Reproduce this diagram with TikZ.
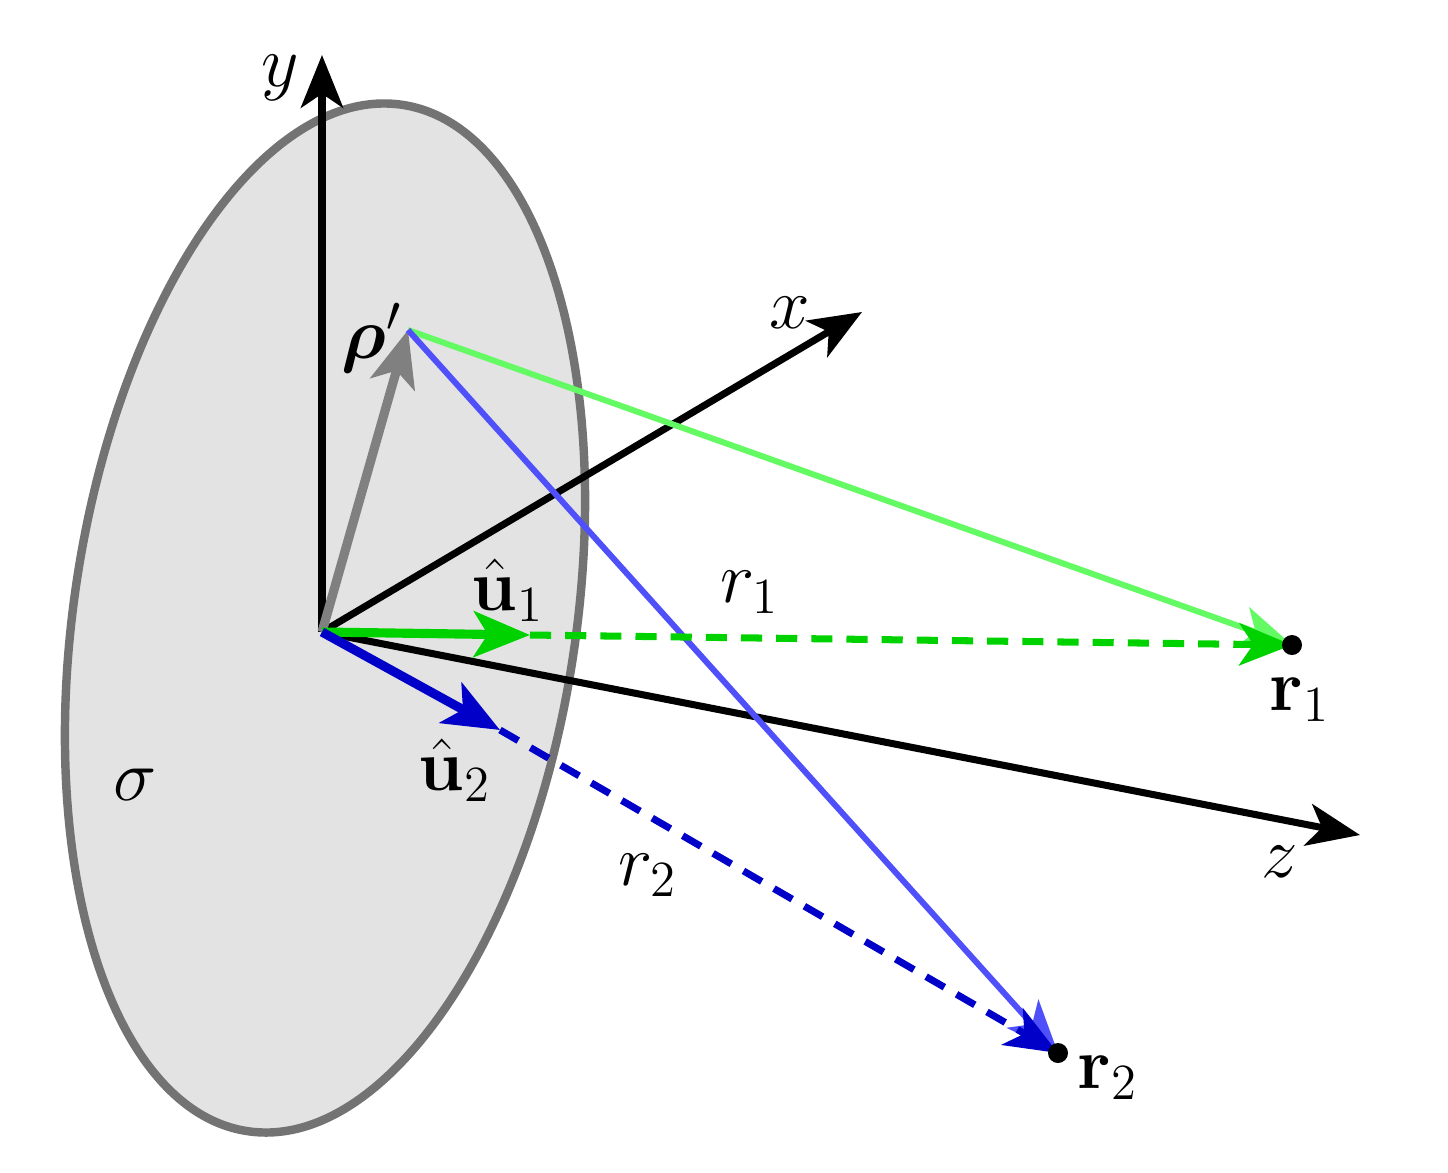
\documentclass[tikz,border=0pt]{standalone}
\usepackage{amsmath,bm}
\usetikzlibrary{arrows.meta}
\begin{document}
\begin{tikzpicture}[x=0.01cm,y=-0.01cm,
  axis/.style={line width=2pt,-{Stealth[length=15pt,width=12pt,inset=4pt]}},
  lab/.style={font=\fontsize{22}{26}\selectfont},
  vec/.style={line width=2.6pt,-{Stealth[length=16pt,width=13pt,inset=4pt]}},
  dsh/.style={line width=2pt,dash pattern=on 6pt off 4pt}]
\useasboundingbox (0,0) rectangle (1448,1172);
\definecolor{gr}{RGB}{0,210,0}
\definecolor{lg}{RGB}{100,250,100}
\definecolor{bl}{RGB}{0,0,200}
\definecolor{lb}{RGB}{80,80,250}
\coordinate (O) at (322,632);
\coordinate (rho) at (408,330);
\coordinate (r1) at (1292,645);
\coordinate (r2) at (1058,1053);
\coordinate (u1) at (530,635);
\coordinate (u2) at (500,730);
\draw[line width=2.4pt,draw=black!55,fill=black!11,rotate around={81.4:(325,618)}] (325,618) ellipse [x radius=519,y radius=251];
\draw[axis] (O) -- (322,55);
\draw[axis] (O) -- (862,312);
\draw[axis] (O) -- (1360,835);
\draw[vec,black!50] (O) -- (rho);
\draw[line width=1.7pt,lg,-{Stealth[length=15pt,width=12pt,inset=4pt]}] (rho) -- (r1);
\draw[line width=1.7pt,lb,-{Stealth[length=15pt,width=12pt,inset=4pt]}] (rho) -- (r2);
\draw[dsh,gr,-{Stealth[length=15pt,width=12pt,inset=4pt]}] (u1) -- (r1);
\draw[dsh,bl,-{Stealth[length=15pt,width=12pt,inset=4pt]}] (u2) -- (r2);
\draw[vec,gr] (O) -- (u1);
\draw[vec,bl] (O) -- (u2);
\fill (r1) circle (10);
\fill (r2) circle (10);
\node[lab] (ly) at (280,78) {$y$};
\node[lab] (lx) at (790,313) {$x$};
\node[lab] (lz) at (1280,862) {$z$};
\node[lab] (lrho) at (372,338) {$\bm{\rho}'$};
\node[lab] (lu1) at (508,590) {$\hat{\mathbf{u}}_1$};
\node[lab] (lr1) at (750,592) {$r_1$};
\node[lab] (lR1) at (1300,700) {$\mathbf{r}_1$};
\node[lab] (lu2) at (455,770) {$\hat{\mathbf{u}}_2$};
\node[lab] (lr2) at (648,875) {$r_2$};
\node[lab] (lR2) at (1108,1078) {$\mathbf{r}_2$};
\node[lab] (ls) at (135,785) {$\sigma$};
\end{tikzpicture}
\end{document}
